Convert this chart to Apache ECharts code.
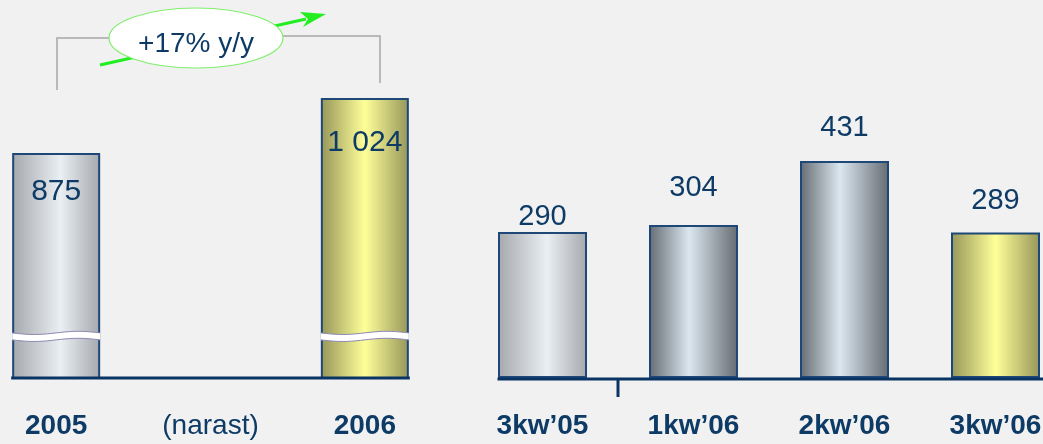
<!DOCTYPE html>
<html>
<head>
<meta charset="utf-8">
<script src="https://cdn.jsdelivr.net/npm/echarts@6/dist/echarts.min.js"></script>
<style>
  html, body { margin: 0; padding: 0; background: #f1f1f1; }
  #chart { width: 1043px; height: 444px; }
</style>
</head>
<body>
<div id="chart"></div>
<script>
// dane roczne (narastajaco)
var yearCats = ['2005', '(narast)', '2006'];
var yearVals = [875, null, 1024];
// dane kwartalne
var quarterCats = ['3kw’05', '1kw’06', '2kw’06', '3kw’06'];
var quarterVals = [290, 304, 431, 289];
var growthText = '+17% y/y';
var yearAxisMin = 266;   // os przerwana
var breakAt = 380;

var navy = '#0d3b66';
var font = 'Liberation Sans, Arial, sans-serif';

function grad(edge, mid, pos) {
  return new echarts.graphic.LinearGradient(0, 0, 1, 0, [
    { offset: 0, color: edge },
    { offset: pos, color: mid },
    { offset: 1, color: edge }
  ]);
}
var silver = grad('#a5a8ac', '#eaeff4', 0.55);
var steel = grad('#656b72', '#dbe7ef', 0.45);
var yellow = grad('#96965a', '#ffff99', 0.5);

var yearFill = [silver, null, yellow];
var yearLabelGap = [24, 0, 30];
var quarterFill = [silver, steel, steel, yellow];
var quarterLabelGap = [0, 22, 18, 17];

function fmt(v) {
  return String(v).replace(/\B(?=(\d{3})+(?!\d))/g, ' ');
}

var chart = echarts.init(document.getElementById('chart'));

var option = {
  backgroundColor: '#f1f1f1',
  animation: false,
  grid: [
    { left: -21, top: 98, width: 463, bottom: 66, outerBoundsMode: 'none' },
    { left: 467, top: 101, width: 604, bottom: 66, outerBoundsMode: 'none' }
  ],
  xAxis: [
    {
      type: 'category', gridIndex: 0,
      data: yearCats.map(function (c, i) {
        return i === 1 ? { value: c, textStyle: { fontWeight: 'normal' } } : c;
      }),
      axisLine: { show: false }, axisTick: { show: false },
      axisLabel: { interval: 0, margin: 34, color: navy, fontSize: 28, fontWeight: 'bold', fontFamily: font }
    },
    {
      type: 'category', gridIndex: 1, data: quarterCats,
      axisLine: { show: false }, axisTick: { show: false },
      axisLabel: { interval: 0, margin: 34, color: navy, fontSize: 28, fontWeight: 'bold', fontFamily: font }
    }
  ],
  yAxis: [
    { type: 'value', gridIndex: 0, min: yearAxisMin, max: 1024, show: false, splitLine: { show: false } },
    { type: 'value', gridIndex: 1, min: 0, max: 550, show: false, splitLine: { show: false } }
  ],
  series: [
    {
      type: 'bar', xAxisIndex: 0, yAxisIndex: 0, barWidth: 88,
      data: yearVals.map(function (v, i) {
        return { value: v, itemStyle: { color: yearFill[i] }, label: { distance: yearLabelGap[i] } };
      }),
      itemStyle: { borderColor: '#1d4877', borderWidth: 2 },
      label: {
        show: true, position: 'insideTop',
        formatter: function (p) { return fmt(p.value); },
        color: navy, fontSize: 30, fontFamily: font
      }
    },
    {
      type: 'custom', xAxisIndex: 0, yAxisIndex: 0, z: 10,
      encode: { x: 0, y: 1 },
      data: [[0, breakAt], [2, breakAt]],
      renderItem: function (params, api) {
        var c = api.coord([api.value(0), api.value(1)]);
        var w = 88, n = 20, top = [], bot = [];
        for (var i = 0; i <= n; i++) {
          var x = c[0] - w / 2 + w * i / n;
          var y = c[1] - 3 + 1.6 * Math.sin(i / n * Math.PI * 2);
          top.push([x, y]);
          bot.push([x, y + 7]);
        }
        return {
          type: 'group',
          children: [
            { type: 'polygon', shape: { points: top.concat(bot.slice().reverse()) }, style: { fill: '#ffffff' } },
            { type: 'polyline', shape: { points: top }, style: { stroke: '#8c88b4', lineWidth: 1, fill: null } },
            { type: 'polyline', shape: { points: bot }, style: { stroke: '#8c88b4', lineWidth: 1, fill: null } }
          ]
        };
      }
    },
    {
      type: 'bar', xAxisIndex: 1, yAxisIndex: 1, barWidth: 89,
      data: quarterVals.map(function (v, i) {
        return { value: v, itemStyle: { color: quarterFill[i] }, label: { distance: quarterLabelGap[i] } };
      }),
      itemStyle: { borderColor: '#1d4877', borderWidth: 2 },
      label: {
        show: true, position: 'top',
        color: navy, fontSize: 29, fontFamily: font
      }
    }
  ],
  graphic: [
    { type: 'polyline', shape: { points: [[57, 90], [57, 38], [110, 38]] }, style: { stroke: '#a6a6a6', lineWidth: 1.5, fill: null } },
    { type: 'polyline', shape: { points: [[283, 36], [380, 36], [380, 83]] }, style: { stroke: '#a6a6a6', lineWidth: 1.5, fill: null } },
    { type: 'line', shape: { x1: 100, y1: 65, x2: 306, y2: 19 }, style: { stroke: '#22ee22', lineWidth: 3 } },
    { type: 'polygon', shape: { points: [[326, 14], [303, 27], [308, 19], [300, 12]] }, style: { fill: '#22ee22' } },
    { type: 'ellipse', shape: { cx: 196, cy: 38, rx: 87, ry: 30 }, style: { fill: '#ffffff', stroke: '#7fef6a', lineWidth: 1.2 } },
    { type: 'text', x: 196, y: 44, style: { text: growthText, align: 'center', verticalAlign: 'middle', font: '28px ' + font, fill: navy } }
  ]
};

chart.setOption(option);

// linie bazowe osi rysowane od krawedzi pierwszego slupka
var baseY = chart.convertToPixel({ yAxisIndex: 0 }, yearAxisMin);
var y0 = chart.convertToPixel({ xAxisIndex: 0 }, 0);
var y2 = chart.convertToPixel({ xAxisIndex: 0 }, 2);
var q0 = chart.convertToPixel({ xAxisIndex: 1 }, 0);
var q1 = chart.convertToPixel({ xAxisIndex: 1 }, 1);
var axisColor = '#0a3464';

chart.setOption({
  graphic: option.graphic.concat([
    { type: 'line', z: 100, shape: { x1: y0 - 45, y1: baseY, x2: y2 + 45, y2: baseY }, style: { stroke: axisColor, lineWidth: 3 } },
    { type: 'line', z: 100, shape: { x1: q0 - 45, y1: baseY + 1, x2: chart.getWidth(), y2: baseY + 1 }, style: { stroke: axisColor, lineWidth: 3 } },
    { type: 'line', z: 100, shape: { x1: (q0 + q1) / 2, y1: baseY, x2: (q0 + q1) / 2, y2: baseY + 19 }, style: { stroke: axisColor, lineWidth: 3 } }
  ])
});
</script>
</body>
</html>
